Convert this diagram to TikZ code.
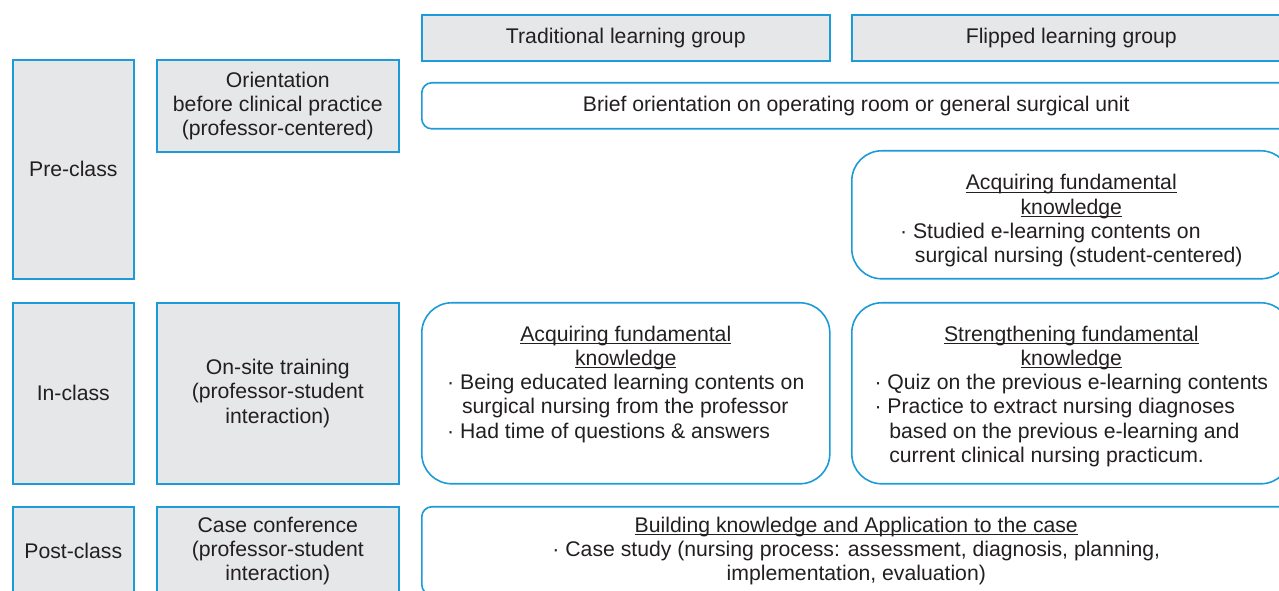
\documentclass[tikz,border=0pt]{standalone}
\usepackage{fontspec}
\setmainfont{Liberation Sans}
\definecolor{frameblue}{RGB}{28,155,216}
\definecolor{boxgray}{RGB}{230,231,232}
\definecolor{inkgray}{RGB}{35,31,32}
\newcommand\uln[1]{\underline{\smash{#1}}\vphantom{#1}}
\tikzset{
  grpbox/.style={draw=frameblue, line width=1.2pt, fill=boxgray, anchor=north west,
    align=center, inner sep=0pt, text=inkgray},
  actbox/.style={draw=frameblue, line width=1.2pt, fill=white, anchor=north west,
    align=center, inner sep=0pt, text=inkgray, rounded corners=#1},
  actbox/.default=22.5pt
}
\begin{document}
\begin{tikzpicture}[x=0.75pt, y=-0.75pt, font=\fontsize{15.9}{18.2}\selectfont]
      \useasboundingbox (0,0) rectangle (1279,591);
      \clip (0,0) rectangle (1279,591);
      \node[grpbox, minimum width=306pt, minimum height=34.5pt] (trad) at (421,14) {Traditional learning group};
      \node[grpbox, minimum width=329.25pt, minimum height=34.5pt] (flip) at (851,14) {Flipped learning group};
      \node[grpbox, minimum width=90.75pt, minimum height=164.25pt] (pre) at (12,59) {Pre-class};
      \node[grpbox, minimum width=181.5pt, minimum height=69pt] (orient) at (156,59)
        {Orientation\\before clinical practice\\(professor-centered)};
      \node[actbox=7.5pt, minimum width=651.75pt, minimum height=34.5pt] (brief) at (421,82)
        {Brief orientation on operating room or general surgical unit};
      \node[actbox, minimum width=329.25pt, minimum height=96pt] (flipacq) at (851,150)
        {\uln{Acquiring fundamental}\rule{0pt}{20.6pt}\\\uln{knowledge}\\
         \vtop{\hbox{· Studied e-learning contents on}
               \hbox{\kern0.7em surgical nursing (student-centered)}}};
      \node[grpbox, minimum width=90.75pt, minimum height=135.75pt] (in) at (12,302) {In-class};
      \node[grpbox, minimum width=181.5pt, minimum height=135.75pt] (onsite) at (156,302)
        {On-site training\\(professor-student\\interaction)};
      \node[actbox, minimum width=306pt, minimum height=135.75pt] (tradacq) at (421,302)
        {\uln{Acquiring fundamental}\rule{0pt}{16.1pt}\\\uln{knowledge}\\
         \vtop{\hbox{· Being educated learning contents on}
               \hbox{\kern0.7em surgical nursing from the professor}
               \hbox{· Had time of questions \& answers}
               \hbox{\vphantom{p}}}};
      \node[actbox, minimum width=329.25pt, minimum height=135.75pt] (strength) at (851,302)
        {\uln{Strengthening fundamental}\rule{0pt}{16.1pt}\\\uln{knowledge}\\
         \vtop{\hbox{· Quiz on the previous e-learning contents}
               \hbox{· Practice to extract nursing diagnoses}
               \hbox{\kern0.7em based on the previous e-learning and}
               \hbox{\kern0.7em current clinical nursing practicum.}}};
      \node[grpbox, minimum width=90.75pt, minimum height=66pt] (post) at (12,506) {Post-class};
      \node[grpbox, minimum width=181.5pt, minimum height=66pt] (case) at (156,506)
        {Case conference\\(professor-student\\interaction)};
      \node[actbox=7.5pt, minimum width=651.75pt, minimum height=66pt] (build) at (421,506)
        {\uln{Building knowledge and Application to the case}\\
         · Case study (nursing process: assessment, diagnosis, planning,\\
         implementation, evaluation)};
    \end{tikzpicture}
\end{document}
